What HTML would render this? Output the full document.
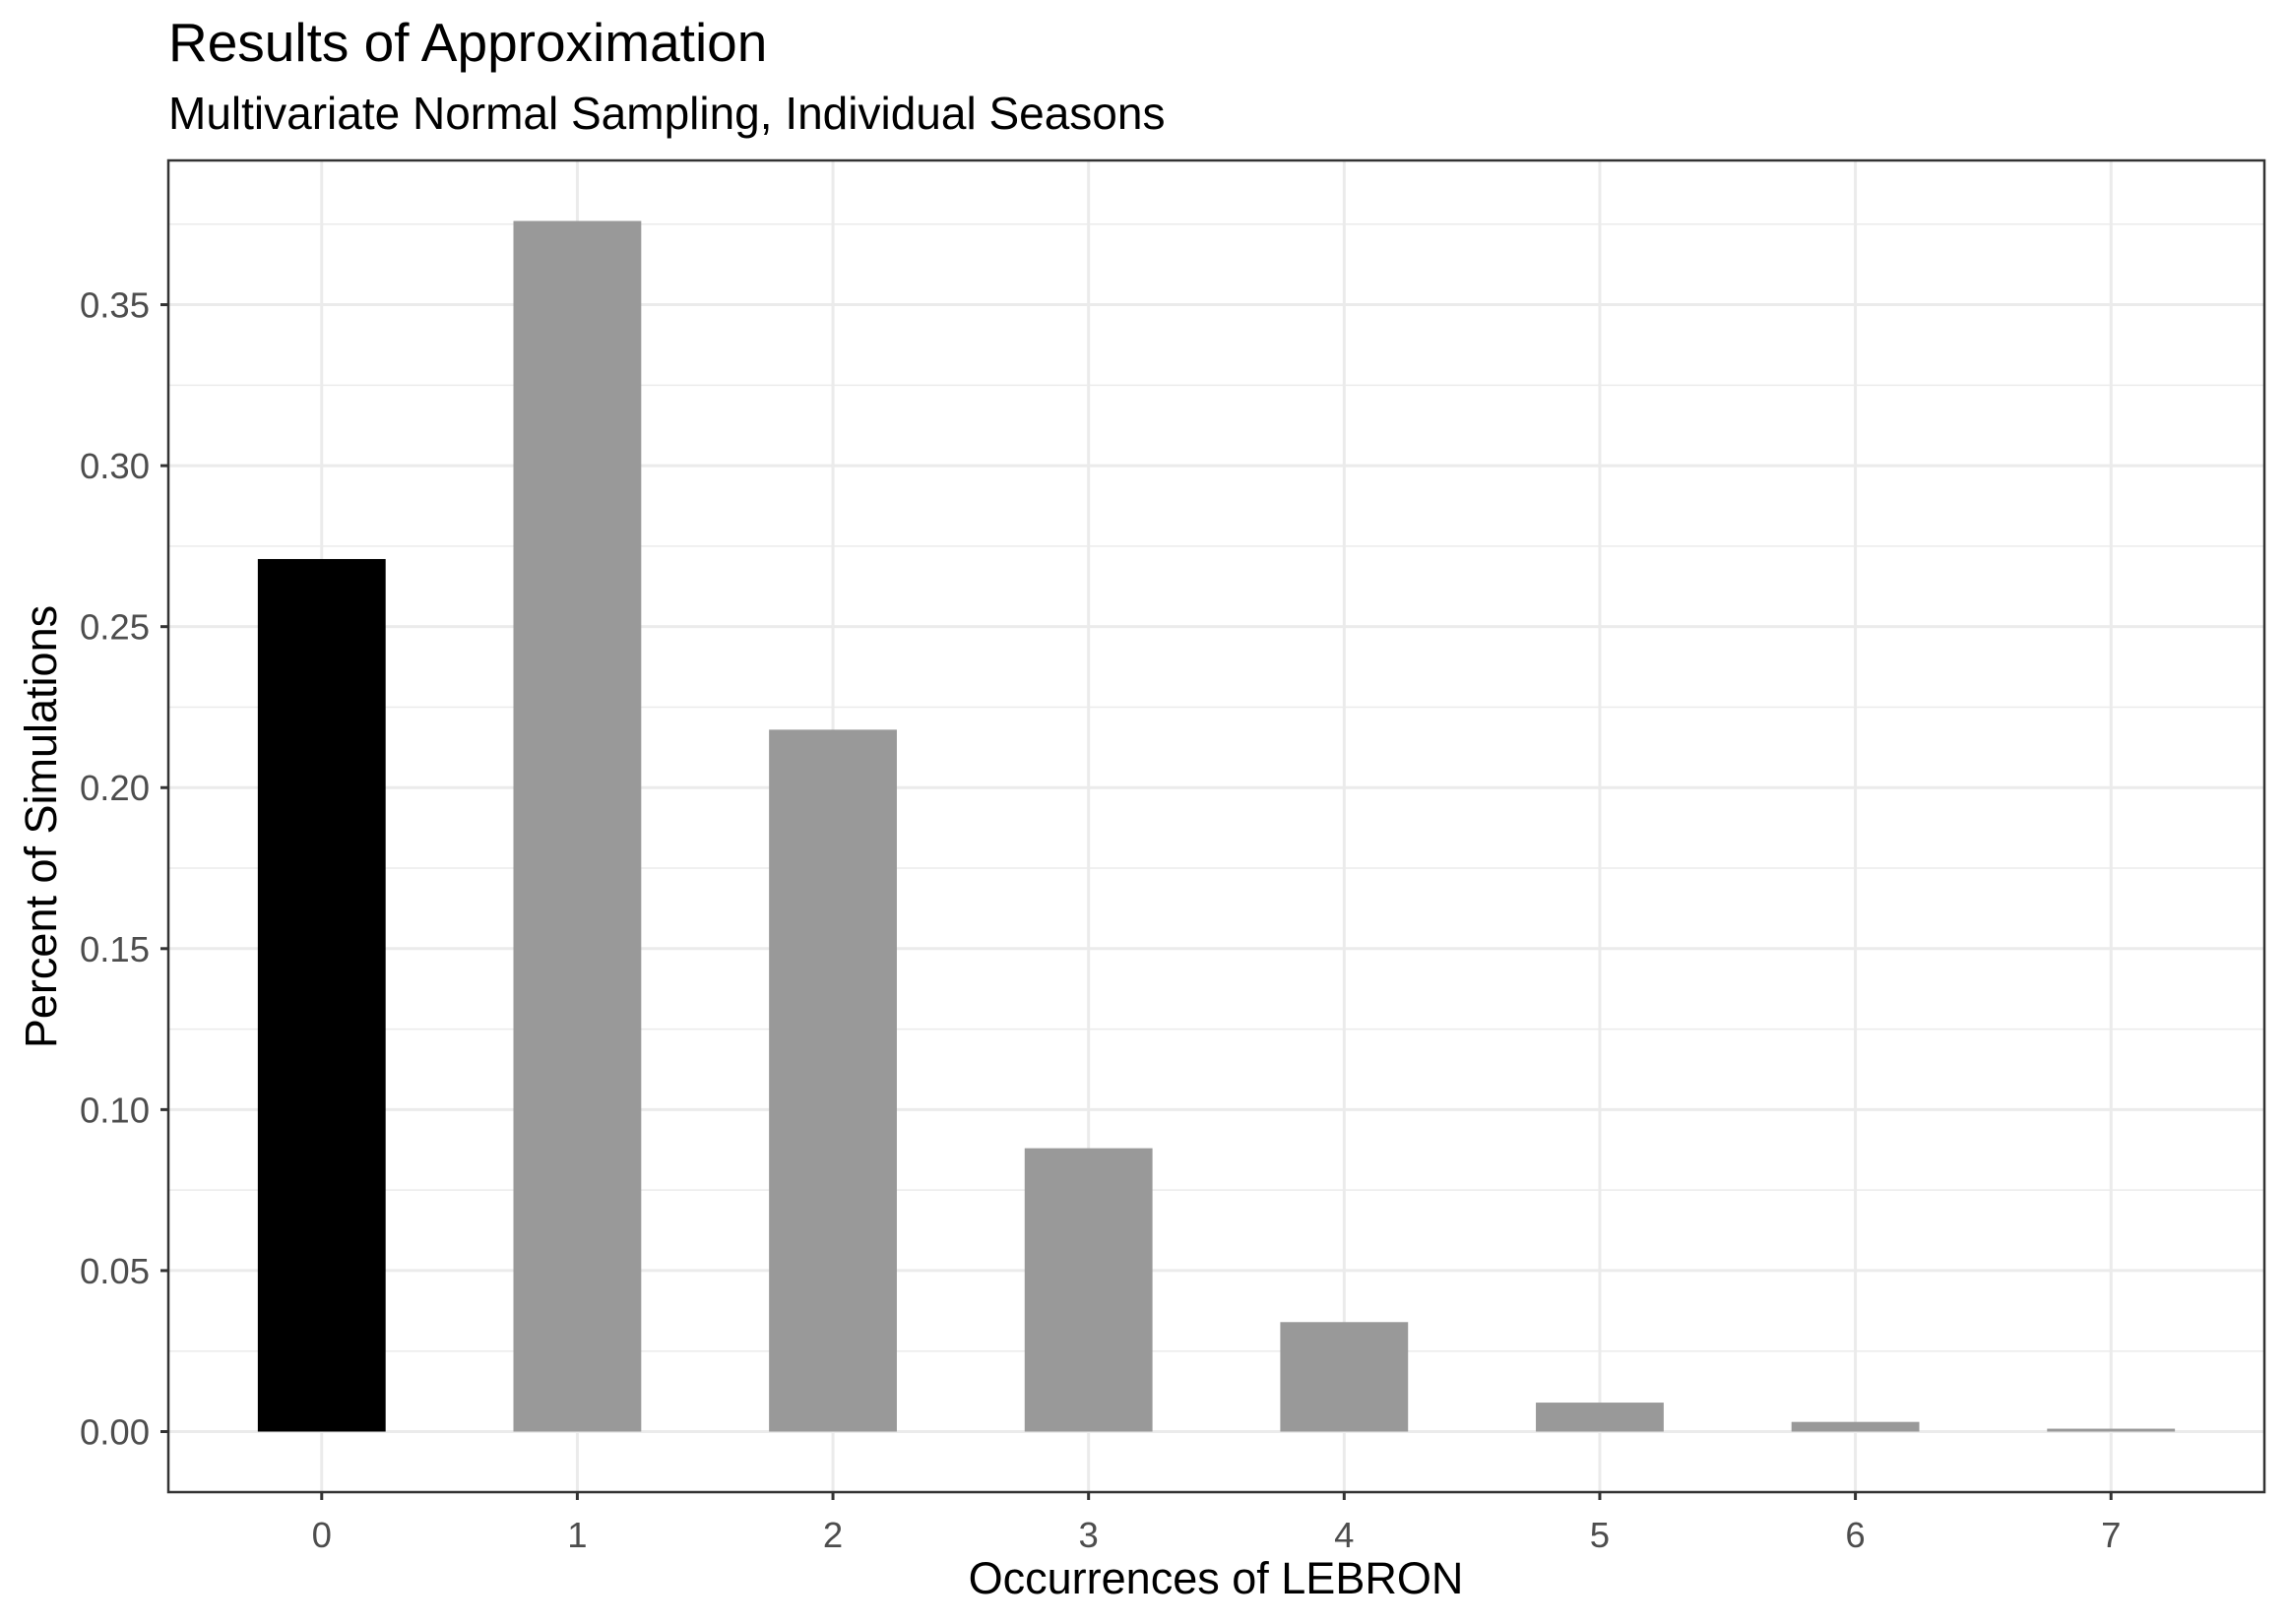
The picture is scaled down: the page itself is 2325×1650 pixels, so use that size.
<!DOCTYPE html>
<html><head><meta charset="utf-8"><style>
html,body{margin:0;padding:0;background:#fff;}
svg{display:block;font-family:"Liberation Sans",Arial,sans-serif;}
</style></head><body>
<svg id="chart" width="2325" height="1650" viewBox="0 0 2325 1650" xmlns="http://www.w3.org/2000/svg">
<rect x="0" y="0" width="2325" height="1650" fill="#fff"/>
<text x="171" y="62" font-size="55" fill="#000">Results of Approximation</text>
<text x="171" y="131" font-size="46" fill="#000">Multivariate Normal Sampling, Individual Seasons</text>
<g id="grid"></g>
<g id="bars"></g>
<rect x="171" y="163" width="2129" height="1353" fill="none" stroke="#333" stroke-width="2.5"/>
<g id="yaxis"></g>
<g id="xaxis"></g>
<text x="1235" y="1619" font-size="45" text-anchor="middle" fill="#000">Occurrences of LEBRON</text>
<text x="0" y="0" font-size="45" text-anchor="middle" fill="#000" transform="translate(57,840) rotate(-90)">Percent of Simulations</text>
</svg>
<script>
const categories = [0, 1, 2, 3, 4, 5, 6, 7];
const values = [0.271, 0.376, 0.218, 0.088, 0.034, 0.009, 0.003, 0.0009];
const highlight = [true, false, false, false, false, false, false, false];
const yTicks = [0.00, 0.05, 0.10, 0.15, 0.20, 0.25, 0.30, 0.35];
const yTickLabels = ["0.00", "0.05", "0.10", "0.15", "0.20", "0.25", "0.30", "0.35"];

const NS = "http://www.w3.org/2000/svg";
const PL = 171, PR = 2300, PT = 163, PB = 1516;
const yMax = Math.max(...values);
const yMin = 0;
const yLo = yMin - (yMax - yMin) * 0.05, yHi = yMax + (yMax - yMin) * 0.05;
const xLo = -0.6, xHi = categories.length - 1 + 0.6;
function xs(v){ return PL + (v - xLo) / (xHi - xLo) * (PR - PL); }
function ys(v){ return PB - (v - yLo) / (yHi - yLo) * (PB - PT); }
function mk(tag, attrs, parent){ const e = document.createElementNS(NS, tag); for (const k in attrs) e.setAttribute(k, attrs[k]); parent.appendChild(e); return e; }

const grid = document.getElementById('grid');
const step = yTicks[1] - yTicks[0];
for (let i = 0; i < yTicks.length; i++) {
  const m = yTicks[i] + step / 2;
  if (m > yHi) continue;
  const l = mk('line', {x1: PL, x2: PR, y1: ys(m), y2: ys(m), stroke: '#ebebeb', 'stroke-width': 1.5}, grid);
  
  
}
yTicks.forEach(t => {
  const l = mk('line', {x1: PL, x2: PR, y1: ys(t), y2: ys(t), stroke: '#ebebeb', 'stroke-width': 3}, grid);
  
  
});
categories.forEach(c => {
  const l = mk('line', {x1: xs(c), x2: xs(c), y1: PT, y2: PB, stroke: '#ebebeb', 'stroke-width': 3}, grid);
  
  
});

const bars = document.getElementById('bars');
categories.forEach((c, i) => {
  const x0 = xs(c - 0.25), x1 = xs(c + 0.25);
  const y0 = ys(0), y1 = ys(values[i]);
  const r = mk('rect', {x: x0, y: y1, width: x1 - x0, height: Math.max(y0 - y1, 0.5), fill: highlight[i] ? '#000000' : '#999999'}, bars);
  
  
});

const ya = document.getElementById('yaxis');
yTicks.forEach((t, i) => {
  const tk = mk('line', {x1: PL - 8, x2: PL, y1: ys(t), y2: ys(t), stroke: '#333', 'stroke-width': 3}, ya);
  
  
  const tx = mk('text', {x: PL - 19, y: ys(t) + 13, 'font-size': 36.5, fill: '#4d4d4d', 'text-anchor': 'end'}, ya);
  tx.textContent = yTickLabels[i];
  
  
});
const xa = document.getElementById('xaxis');
categories.forEach(c => {
  const tk = mk('line', {x1: xs(c), x2: xs(c), y1: PB, y2: PB + 8, stroke: '#333', 'stroke-width': 3}, xa);
  
  
  const tx = mk('text', {x: xs(c), y: PB + 56, 'font-size': 36.5, fill: '#4d4d4d', 'text-anchor': 'middle'}, xa);
  tx.textContent = String(c);
  
  
});
</script>
</body></html>
